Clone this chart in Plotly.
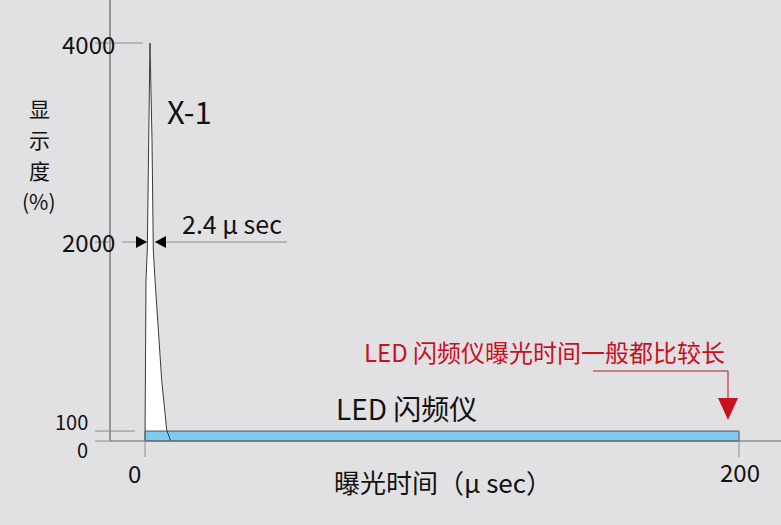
import plotly.graph_objects as go

# ---- data ----
spike_t = [0, 0.34, 0.77, 1.68, 2.36, 2.79, 3.37, 5.62, 7.31, 8.65]
spike_v = [0, 1620, 1920, 4000, 3030, 1920, 1620, 610, 110, 0]
led_t = [0, 200]
led_v = [100, 100]
y_ticks = [0, 100, 2000, 4000]
y_tick_labels = ["0", "100", "2000", "4000"]
x_ticks = [0, 200]
x_tick_labels = ["0", "200"]
dim_level = 2000
dim_label = "2.4 \u03bc sec"
spike_label = "X-1"
led_label = "LED 闪频仪"
note_label = "LED 闪频仪曝光时间一般都比较长"
x_title = "曝光时间（\u03bc sec）"
y_title = ["显", "示", "度", "(%)"]

# ---- pixel helpers (layout only) ----
W, H = 781, 525
X0PX, XS = 145, 2.97
Y0PX, YS = 441, 0.0995


def dx(px):
    return (px - X0PX) / XS


def dy(py):
    return (Y0PX - py) / YS


BG = "#e1e1e3"
AX = "#7a7a7a"
TK = "#8c8c8c"
BLUE = "#7ecbef"
RED = "#c8101e"
NUM = "Noto Sans CJK JP, Noto Sans, sans-serif"
CJK = "Noto Sans CJK SC, Noto Sans, sans-serif"

fig = go.Figure()

# spike fill (white)
fig.add_trace(go.Scatter(x=spike_t, y=spike_v, mode="lines", fill="toself",
                         fillcolor="white", line=dict(width=0),
                         hoverinfo="skip", showlegend=False))
# LED bar
bx = [led_t[0], led_t[0], led_t[1], led_t[1], led_t[0]]
by = [0, led_v[0], led_v[1], 0, 0]
fig.add_trace(go.Scatter(x=bx, y=by, mode="lines", fill="toself",
                         fillcolor=BLUE, line=dict(color="#4a5a66", width=1),
                         hoverinfo="skip", showlegend=False))
# spike outline
fig.add_trace(go.Scatter(x=spike_t, y=spike_v, mode="lines",
                         line=dict(color="#3a3a3a", width=1),
                         hoverinfo="skip", showlegend=False))

shapes = []
# axis lines
shapes.append(dict(type="line", xref="x", yref="y", x0=dx(110), x1=dx(110),
                   y0=0, y1=dy(0), line=dict(color=AX, width=1.5)))
shapes.append(dict(type="line", xref="x", yref="y", x0=dx(110), x1=dx(W),
                   y0=0, y1=0, line=dict(color="#666666", width=1.2)))
# y tick lines
ytick_right = {0: 110, 100: 135, 2000: 110, 4000: 143}
for v in y_ticks:
    shapes.append(dict(type="line", xref="x", yref="y", x0=dx(95),
                       x1=dx(ytick_right[v]), y0=v, y1=v,
                       line=dict(color=TK, width=1)))
# x tick lines
for v in x_ticks:
    shapes.append(dict(type="line", xref="x", yref="y", x0=v, x1=v,
                       y0=dy(457), y1=led_v[0], line=dict(color=TK, width=1)))
# dimension lines and arrowheads
shapes.append(dict(type="line", xref="x", yref="y", x0=dx(122), x1=dx(147),
                   y0=dim_level, y1=dim_level, line=dict(color=TK, width=1)))
shapes.append(dict(type="line", xref="x", yref="y", x0=dx(155), x1=dx(287),
                   y0=dim_level, y1=dim_level, line=dict(color=TK, width=1)))
hh = 6 / YS
shapes.append(dict(type="path", xref="x", yref="y",
                   path=f"M {dx(136)},{dim_level - hh} L {dx(147)},{dim_level} L {dx(136)},{dim_level + hh} Z",
                   fillcolor="black", line=dict(width=0)))
shapes.append(dict(type="path", xref="x", yref="y",
                   path=f"M {dx(166)},{dim_level - hh} L {dx(155)},{dim_level} L {dx(166)},{dim_level + hh} Z",
                   fillcolor="black", line=dict(width=0)))
# red note leader
shapes.append(dict(type="path", xref="x", yref="y",
                   path=f"M {dx(593)},{dy(371)} L {dx(728)},{dy(371)} L {dx(728)},{dy(399)}",
                   line=dict(color=RED, width=1)))
shapes.append(dict(type="path", xref="x", yref="y",
                   path=f"M {dx(718)},{dy(398)} L {dx(738)},{dy(398)} L {dx(728)},{dy(420)} Z",
                   fillcolor=RED, line=dict(width=0)))

ann = []


def text(px, py, s, size, family, color="#111111", xanchor="center"):
    ann.append(dict(x=dx(px), y=dy(py), xref="x", yref="y", text=s,
                    showarrow=False, xanchor=xanchor, yanchor="middle",
                    font=dict(size=size, family=family, color=color)))


# y tick labels
text(117, 43, y_tick_labels[3], 24, NUM, xanchor="right")
text(117, 241, y_tick_labels[2], 24, NUM, xanchor="right")
text(90, 421, y_tick_labels[1], 20, CJK, xanchor="right")
text(90, 449, y_tick_labels[0], 20, CJK, xanchor="right")
# x tick labels
text(134, 472, x_tick_labels[0], 24, CJK)
text(740, 471, x_tick_labels[1], 24, CJK)
# titles
text(443, 481, x_title, 26, CJK)
for s, yy in zip(y_title, [108, 139, 170, 201]):
    text(39, yy, s, 21, CJK)
# labels
text(189, 110, spike_label, 31, NUM)
text(232, 223, dim_label, 25, NUM)
text(406, 408, led_label, 28, CJK)
text(544, 351, note_label, 24, CJK, color=RED)

fig.update_layout(
    width=W, height=H, margin=dict(l=0, r=0, t=0, b=0),
    paper_bgcolor=BG, plot_bgcolor=BG, showlegend=False,
    xaxis=dict(range=[dx(0), dx(W)], visible=False, fixedrange=True),
    yaxis=dict(range=[dy(H), dy(0)], visible=False, fixedrange=True),
    shapes=shapes, annotations=ann,
)
fig.write_html("out.html", config={"displayModeBar": False},
               post_script="document.body.style.margin='0';document.body.style.overflow='hidden';")
